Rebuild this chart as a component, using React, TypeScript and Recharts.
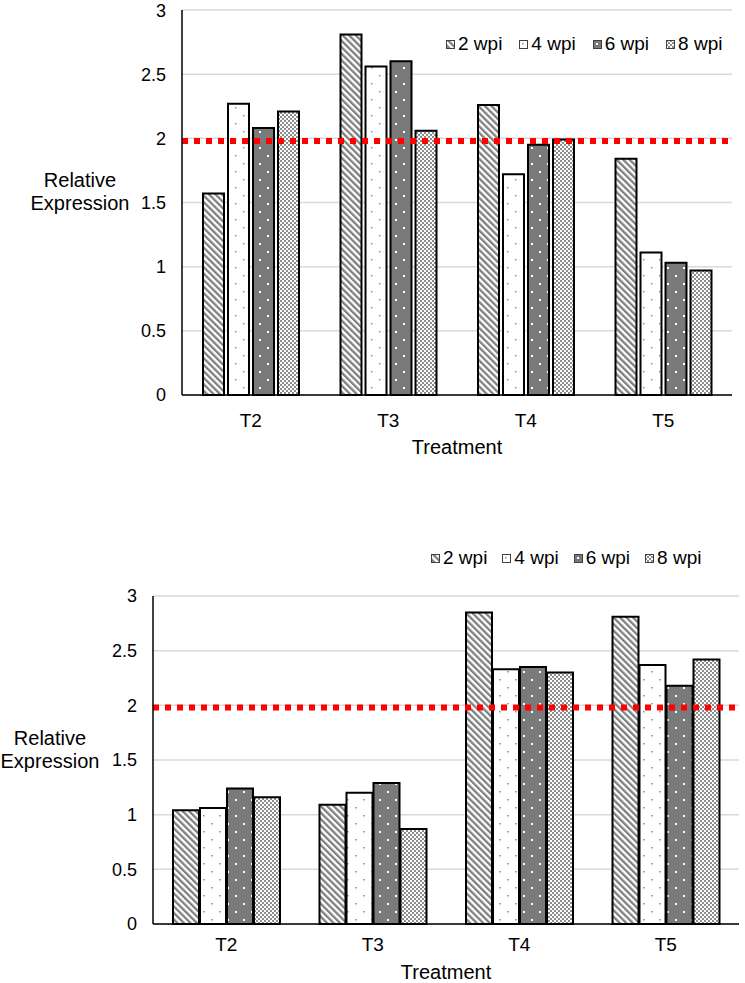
import React from 'react';
import { BarChart, Bar, XAxis, YAxis, CartesianGrid, ReferenceLine, Legend } from 'recharts';

const FONT = '"Liberation Sans", Arial, sans-serif';

const treatments = ['T2', 'T3', 'T4', 'T5'];
const seriesNames = ['2 wpi', '4 wpi', '6 wpi', '8 wpi'];
const yTicks = [0, 0.5, 1, 1.5, 2, 2.5, 3];
const threshold = 1.98;

// upper panel
const topWpi2 = [1.57, 2.81, 2.26, 1.84];
const topWpi4 = [2.27, 2.56, 1.72, 1.11];
const topWpi6 = [2.08, 2.6, 1.95, 1.03];
const topWpi8 = [2.21, 2.06, 1.99, 0.97];

// lower panel
const botWpi2 = [1.04, 1.09, 2.85, 2.81];
const botWpi4 = [1.06, 1.2, 2.33, 2.37];
const botWpi6 = [1.24, 1.29, 2.35, 2.18];
const botWpi8 = [1.16, 0.87, 2.3, 2.42];

const keys = ['w2', 'w4', 'w6', 'w8'];
const fills = ['url(#pat2)', 'url(#pat4)', 'url(#pat6)', 'url(#pat8)'];

const buildRows = (a: number[], b: number[], c: number[], d: number[]) =>
  treatments.map((t, i) => ({ treatment: t, w2: a[i], w4: b[i], w6: c[i], w8: d[i] }));

const topData = buildRows(topWpi2, topWpi4, topWpi6, topWpi8);
const botData = buildRows(botWpi2, botWpi4, botWpi6, botWpi8);

// hatch patterns shared by both charts (ids are page-global)
const Patterns = () => (
  <svg width={0} height={0} style={{ position: 'absolute' }}>
    <defs>
      <pattern id="pat2" patternUnits="userSpaceOnUse" width={4.6} height={4.6} patternTransform="rotate(-45)">
        <rect width={4.6} height={4.6} fill="#fff" />
        <rect width={2.3} height={4.6} fill="#7f7f7f" />
      </pattern>
      <pattern id="pat4" patternUnits="userSpaceOnUse" width={16} height={16}>
        <rect width={16} height={16} fill="#fff" />
        <rect x={3} y={3} width={1.5} height={1.5} fill="#8a8a8a" />
        <rect x={11} y={11} width={1.5} height={1.5} fill="#8a8a8a" />
      </pattern>
      <pattern id="pat6" patternUnits="userSpaceOnUse" width={16} height={16}>
        <rect width={16} height={16} fill="#7a7a7a" />
        <rect x={3} y={3} width={2} height={2} fill="#fff" />
        <rect x={11} y={11} width={2} height={2} fill="#fff" />
      </pattern>
      <pattern id="pat8" patternUnits="userSpaceOnUse" width={4} height={4}>
        <rect width={4} height={4} fill="#fff" />
        <rect width={2} height={2} fill="#8c8c8c" />
        <rect x={2} y={2} width={2} height={2} fill="#8c8c8c" />
      </pattern>
    </defs>
  </svg>
);

const LegendBox = ({ gap }: { gap: number }) => (
  <div style={{ display: 'flex', alignItems: 'center', fontFamily: FONT, fontSize: 19, color: '#000' }}>
    {seriesNames.map((name, i) => (
      <div key={name} style={{ display: 'flex', alignItems: 'center', marginRight: gap }}>
        <svg width={9} height={9} style={{ marginRight: 3 }}>
          <rect x={0.5} y={0.5} width={8} height={8} fill={fills[i]} stroke="#404040" strokeWidth={1} />
        </svg>
        <span>{name}</span>
      </div>
    ))}
  </div>
);

const YTitle = ({ cx, y1, y2 }: { cx: number; y1: number; y2: number }) => (
  <g fontFamily={FONT} fontSize={20} fill="#000" textAnchor="middle">
    <text x={cx} y={y1}>Relative</text>
    <text x={cx} y={y2}>Expression</text>
  </g>
);

interface PanelProps {
  data: typeof topData;
  height: number;
  margin: { top: number; right: number; left: number; bottom: number };
  yWidth: number;
  xHeight: number;
  barSize: number;
  barGap: number;
  legendTop: number;
  legendLeft: number;
  legendGap: number;
  title: { cx: number; y1: number; y2: number };
  tickGap: number;
  titleOffset: number;
}

const Panel = (p: PanelProps) => (
  <BarChart width={745} height={p.height} data={p.data} margin={p.margin} barSize={p.barSize} barGap={p.barGap}>
    <CartesianGrid vertical={false} stroke="#d9d9d9" strokeWidth={1.5} />
    <XAxis
      dataKey="treatment"
      height={p.xHeight}
      tickLine={false}
      tickSize={0}
      tickMargin={p.tickGap}
      axisLine={{ stroke: '#000', strokeWidth: 1.5 }}
      tick={{ fill: '#000', fontSize: 19, fontFamily: FONT }}
      label={{ value: 'Treatment', position: 'insideBottom', offset: p.titleOffset, fill: '#000', fontSize: 20, fontFamily: FONT }}
    />
    <YAxis
      width={p.yWidth}
      domain={[0, 3]}
      ticks={yTicks}
      tickLine={false}
      tickSize={0}
      tickMargin={16}
      axisLine={{ stroke: '#000', strokeWidth: 1.5 }}
      tick={{ fill: '#000', fontSize: 18, fontFamily: FONT }}
      label={{ content: () => <YTitle {...p.title} /> }}
    />
    <Legend
      layout="horizontal"
      verticalAlign="middle"
      align="center"
      wrapperStyle={{ top: p.legendTop, left: p.legendLeft, width: 320 }}
      content={() => <LegendBox gap={p.legendGap} />}
    />
    {keys.map((k, i) => (
      <Bar key={k} dataKey={k} name={seriesNames[i]} fill={fills[i]} stroke="#000" strokeWidth={2} isAnimationActive={false} />
    ))}
    <ReferenceLine y={threshold} stroke="#ff0000" strokeWidth={6} strokeDasharray="6 6" />
  </BarChart>
);

export default function App() {
  return (
    <div style={{ position: 'absolute', left: 0, top: 0, width: 745, height: 983, background: '#fff' }}>
      <Patterns />
      <div style={{ position: 'absolute', left: 0, top: 0 }}>
        <Panel
          data={topData}
          height={470}
          margin={{ top: 10, right: 13, left: 0, bottom: 0 }}
          yWidth={182}
          xHeight={75}
          barSize={21}
          barGap={4}
          legendTop={33}
          legendLeft={446}
          legendGap={17}
          title={{ cx: 80, y1: 187, y2: 210 }}
          tickGap={19}
          titleOffset={16}
        />
      </div>
      <div style={{ position: 'absolute', left: 0, top: 500 }}>
        <Panel
          data={botData}
          height={483}
          margin={{ top: 96, right: 6, left: 0, bottom: 0 }}
          yWidth={153}
          xHeight={59}
          barSize={26}
          barGap={1}
          legendTop={47}
          legendLeft={431}
          legendGap={15}
          title={{ cx: 50, y1: 245, y2: 268 }}
          tickGap={14}
          titleOffset={4}
        />
      </div>
    </div>
  );
}
